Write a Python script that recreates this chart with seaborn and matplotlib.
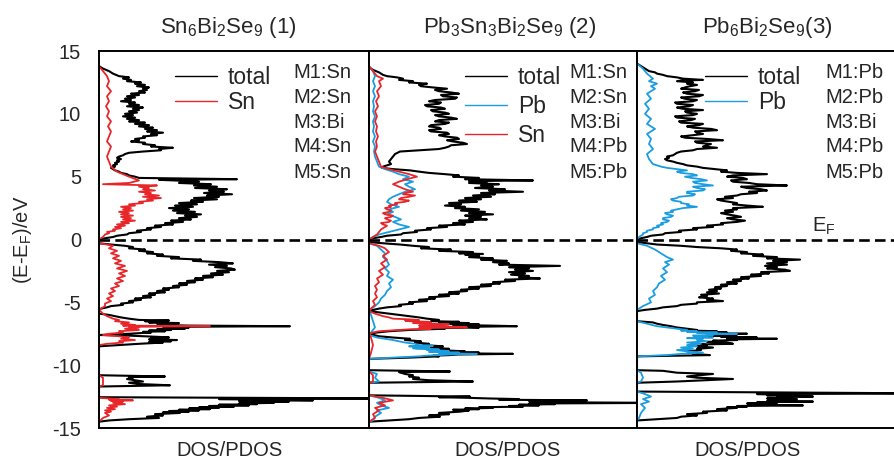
import matplotlib
matplotlib.use("Agg")
import matplotlib.pyplot as plt
import seaborn as sns

# ---------------- data: (energy in eV relative to E_F, DOS in arb. units) ----------------
# Panel 1: Sn6Bi2Se9
tot1 = [(13.8, 0), (13.6, 4), (13.4, 10), (13.2, 14), (13.0, 20), (12.9, 30), (12.8, 24), (12.7, 32),
        (12.6, 28), (12.5, 42), (12.4, 36), (12.3, 46), (12.2, 38), (12.1, 50), (12.0, 44), (11.9, 48),
        (11.8, 40), (11.7, 46), (11.6, 32), (11.5, 40), (11.4, 28), (11.3, 36), (11.2, 26), (11.1, 32),
        (11.0, 22), (10.9, 36), (10.8, 30), (10.7, 40), (10.6, 28), (10.5, 44), (10.4, 34), (10.3, 40),
        (10.2, 30), (10.1, 38), (10.0, 26), (9.9, 34), (9.8, 24), (9.7, 36), (9.6, 28), (9.5, 40),
        (9.4, 30), (9.3, 46), (9.2, 36), (9.1, 50), (9.0, 40), (8.9, 54), (8.8, 46), (8.7, 58),
        (8.6, 48), (8.5, 64), (8.4, 52), (8.3, 58), (8.2, 44), (8.1, 46), (8.0, 36), (7.9, 40),
        (7.8, 32), (7.7, 46), (7.6, 44), (7.5, 56), (7.4, 52), (7.3, 74), (7.2, 60), (7.1, 62),
        (7.0, 44), (6.9, 30), (6.8, 26), (6.7, 24), (6.6, 20), (6.5, 18), (6.4, 22), (6.3, 18),
        (6.2, 20), (6.1, 16), (6.0, 18), (5.9, 14), (5.8, 16), (5.7, 12), (5.6, 14), (5.5, 16),
        (5.4, 20), (5.3, 22), (5.2, 28), (5.1, 30), (5.0, 36), (4.9, 40), (4.8, 138), (4.75, 60),
        (4.7, 75), (4.6, 100), (4.5, 80), (4.4, 112), (4.3, 95), (4.2, 118), (4.1, 96), (4.0, 128),
        (3.9, 110), (3.8, 125), (3.7, 105), (3.6, 133), (3.5, 108), (3.4, 120), (3.3, 95), (3.2, 118),
        (3.1, 92), (3.0, 104), (2.9, 80), (2.8, 98), (2.7, 76), (2.6, 94), (2.5, 70), (2.4, 90),
        (2.3, 74), (2.2, 96), (2.1, 78), (2.0, 102), (1.9, 86), (1.8, 98), (1.7, 80), (1.6, 92),
        (1.5, 72), (1.4, 84), (1.3, 66), (1.2, 74), (1.1, 56), (1.0, 62), (0.9, 48), (0.8, 52),
        (0.7, 38), (0.6, 42), (0.5, 30), (0.4, 28), (0.3, 18), (0.2, 14), (0.1, 6), (0.0, 0),
        (-0.3, 0), (-0.4, 12), (-0.5, 26), (-0.6, 34), (-0.7, 30), (-0.8, 46), (-0.9, 40), (-1.0, 54),
        (-1.1, 48), (-1.2, 64), (-1.3, 58), (-1.4, 80), (-1.5, 72), (-1.6, 102), (-1.7, 94), (-1.8, 120),
        (-1.9, 134), (-2.0, 110), (-2.1, 128), (-2.2, 116), (-2.3, 132), (-2.4, 136), (-2.5, 118),
        (-2.6, 130), (-2.7, 112), (-2.8, 124), (-2.9, 104), (-3.0, 114), (-3.1, 96), (-3.2, 104),
        (-3.3, 88), (-3.4, 96), (-3.5, 80), (-3.6, 88), (-3.7, 74), (-3.8, 80), (-3.9, 64), (-4.0, 70),
        (-4.1, 58), (-4.2, 66), (-4.3, 50), (-4.4, 56), (-4.5, 44), (-4.6, 52), (-4.7, 36), (-4.8, 42),
        (-4.9, 30), (-5.0, 34), (-5.1, 22), (-5.2, 24), (-5.3, 12), (-5.4, 8), (-5.5, 2), (-5.6, 0),
        (-5.9, 0), (-6.0, 10), (-6.1, 16), (-6.2, 22), (-6.3, 30), (-6.4, 40), (-6.45, 70), (-6.5, 46),
        (-6.55, 62), (-6.6, 50), (-6.65, 80), (-6.7, 58), (-6.75, 76), (-6.8, 60), (-6.85, 90),
        (-6.9, 191), (-6.95, 70), (-7.0, 90), (-7.05, 64), (-7.1, 86), (-7.15, 58), (-7.2, 72),
        (-7.25, 50), (-7.3, 66), (-7.35, 44), (-7.4, 52), (-7.5, 30), (-7.6, 0), (-7.65, 30), (-7.7, 46),
        (-7.75, 60), (-7.8, 70), (-7.85, 52), (-7.9, 66), (-7.95, 50), (-8.0, 78), (-8.05, 58),
        (-8.1, 72), (-8.15, 50), (-8.2, 64), (-8.3, 40), (-8.4, 20), (-8.5, 0), (-10.8, 0), (-10.9, 66),
        (-10.95, 30), (-11.0, 34), (-11.1, 28), (-11.2, 36), (-11.3, 44), (-11.4, 30), (-11.5, 40),
        (-11.6, 71), (-11.7, 0), (-12.55, 0), (-12.65, 300), (-12.7, 120), (-12.75, 180), (-12.8, 214),
        (-12.85, 140), (-12.9, 190), (-12.95, 150), (-13.0, 175), (-13.05, 140), (-13.1, 158),
        (-13.15, 120), (-13.2, 150), (-13.25, 110), (-13.3, 135), (-13.35, 100), (-13.4, 120),
        (-13.45, 90), (-13.5, 111), (-13.55, 80), (-13.6, 100), (-13.65, 70), (-13.7, 90), (-13.75, 64),
        (-13.8, 81), (-13.9, 56), (-14.0, 64), (-14.1, 48), (-14.2, 60), (-14.3, 30), (-14.4, 10),
        (-14.5, 0)]

sn1 = [(13.8, 0), (13.4, 4), (13.0, 8), (12.6, 10), (12.2, 8), (11.8, 12), (11.4, 8), (11.0, 10),
       (10.6, 7), (10.2, 10), (9.8, 8), (9.4, 12), (9.0, 9), (8.6, 12), (8.2, 10), (7.8, 8), (7.4, 12),
       (7.0, 10), (6.6, 8), (6.2, 10), (5.8, 12), (5.4, 18), (5.0, 30), (4.7, 40), (4.5, 30), (4.4, 4),
       (4.3, 58), (4.2, 40), (4.1, 50), (4.0, 44), (3.9, 56), (3.8, 40), (3.7, 52), (3.6, 46), (3.5, 60),
       (3.4, 44), (3.3, 62), (3.2, 48), (3.1, 54), (3.0, 40), (2.9, 44), (2.8, 30), (2.7, 36), (2.6, 22),
       (2.5, 32), (2.4, 24), (2.3, 34), (2.2, 20), (2.1, 30), (2.0, 22), (1.9, 34), (1.8, 22), (1.7, 32),
       (1.6, 24), (1.5, 36), (1.4, 22), (1.3, 30), (1.2, 18), (1.1, 26), (1.0, 16), (0.9, 22), (0.8, 14),
       (0.7, 16), (0.6, 8), (0.5, 10), (0.4, 6), (0.2, 4), (0.0, 0), (-0.3, 0), (-0.4, 8), (-0.5, 14),
       (-0.7, 10), (-0.9, 18), (-1.1, 12), (-1.3, 20), (-1.5, 14), (-1.7, 22), (-1.9, 16), (-2.1, 26),
       (-2.3, 18), (-2.5, 28), (-2.7, 20), (-2.9, 26), (-3.1, 18), (-3.3, 24), (-3.5, 16), (-3.7, 20),
       (-3.9, 12), (-4.1, 16), (-4.3, 10), (-4.5, 14), (-4.7, 8), (-4.9, 12), (-5.1, 6), (-5.3, 6),
       (-5.5, 2), (-5.6, 0), (-5.9, 4), (-6.1, 8), (-6.3, 14), (-6.4, 20), (-6.5, 16), (-6.6, 30),
       (-6.7, 22), (-6.8, 36), (-6.85, 24), (-6.9, 111), (-6.95, 30), (-7.0, 40), (-7.1, 26), (-7.2, 40),
       (-7.3, 20), (-7.4, 24), (-7.5, 10), (-7.6, 4), (-7.7, 20), (-7.8, 30), (-7.9, 22), (-8.0, 36),
       (-8.1, 20), (-8.2, 24), (-8.3, 8), (-8.4, 0), (-10.8, 0), (-11.0, 4), (-11.6, 4), (-11.7, 0),
       (-12.6, 0), (-12.7, 20), (-12.75, 10), (-12.8, 34), (-12.85, 12), (-12.9, 24), (-13.0, 14),
       (-13.1, 26), (-13.2, 10), (-13.3, 18), (-13.4, 8), (-13.5, 16), (-13.6, 6), (-13.7, 12),
       (-13.8, 6), (-14.0, 10), (-14.2, 4), (-14.5, 0)]

# Panel 2: Pb3Sn3Bi2Se9
tot2 = [(13.7, 0), (13.5, 4), (13.3, 10), (13.1, 14), (13.0, 18), (12.9, 28), (12.8, 34), (12.7, 30),
        (12.6, 44), (12.5, 40), (12.4, 58), (12.3, 50), (12.2, 52), (12.1, 64), (12.0, 78), (11.9, 66),
        (11.8, 70), (11.7, 82), (11.6, 90), (11.5, 72), (11.4, 74), (11.3, 88), (11.2, 86), (11.1, 66),
        (11.0, 60), (10.9, 72), (10.8, 70), (10.7, 56), (10.6, 58), (10.5, 72), (10.4, 76), (10.3, 62),
        (10.2, 64), (10.1, 76), (10.0, 80), (9.9, 66), (9.8, 70), (9.7, 82), (9.6, 88), (9.5, 70),
        (9.4, 66), (9.3, 80), (9.2, 76), (9.1, 62), (9.0, 60), (8.9, 70), (8.8, 72), (8.7, 60),
        (8.6, 62), (8.5, 78), (8.4, 80), (8.3, 70), (8.2, 76), (8.1, 88), (8.0, 90), (7.9, 78),
        (7.8, 84), (7.7, 94), (7.6, 98), (7.5, 82), (7.4, 80), (7.3, 76), (7.2, 70), (7.1, 50),
        (7.0, 31), (6.8, 26), (6.6, 24), (6.4, 22), (6.2, 20), (6.0, 22), (5.8, 14), (5.7, 13),
        (5.6, 24), (5.5, 41), (5.4, 50), (5.3, 60), (5.2, 76), (5.1, 90), (5.0, 84), (4.9, 110),
        (4.8, 96), (4.7, 164), (4.65, 100), (4.6, 118), (4.5, 100), (4.4, 130), (4.3, 112), (4.2, 124),
        (4.1, 106), (4.0, 136), (3.9, 120), (3.8, 154), (3.7, 112), (3.6, 126), (3.5, 104), (3.4, 122),
        (3.3, 96), (3.2, 112), (3.1, 90), (3.0, 108), (2.9, 80), (2.8, 92), (2.7, 76), (2.6, 96),
        (2.5, 86), (2.4, 110), (2.3, 92), (2.2, 116), (2.1, 100), (2.0, 124), (1.9, 96), (1.8, 112),
        (1.7, 100), (1.6, 118), (1.5, 90), (1.4, 104), (1.3, 84), (1.2, 96), (1.1, 70), (1.0, 78),
        (0.9, 58), (0.8, 62), (0.7, 46), (0.6, 48), (0.5, 34), (0.4, 32), (0.3, 18), (0.2, 12),
        (0.1, 4), (0.0, 0), (-0.2, 0), (-0.3, 14), (-0.4, 31), (-0.5, 44), (-0.6, 60), (-0.7, 52),
        (-0.8, 82), (-0.9, 70), (-1.0, 104), (-1.1, 90), (-1.15, 114), (-1.2, 96), (-1.3, 110),
        (-1.4, 100), (-1.5, 124), (-1.6, 112), (-1.7, 138), (-1.8, 124), (-1.9, 140), (-2.0, 130),
        (-2.1, 191), (-2.2, 140), (-2.3, 160), (-2.4, 146), (-2.5, 164), (-2.6, 140), (-2.7, 156),
        (-2.8, 142), (-2.9, 160), (-3.0, 150), (-3.1, 171), (-3.2, 136), (-3.3, 146), (-3.4, 124),
        (-3.5, 131), (-3.6, 112), (-3.7, 122), (-3.8, 100), (-3.9, 110), (-4.0, 92), (-4.1, 98),
        (-4.2, 80), (-4.3, 90), (-4.4, 70), (-4.5, 80), (-4.6, 60), (-4.7, 66), (-4.8, 50), (-4.9, 58),
        (-5.0, 40), (-5.1, 44), (-5.2, 30), (-5.3, 32), (-5.4, 18), (-5.5, 10), (-5.6, 4), (-5.7, 0),
        (-5.8, 10), (-5.9, 20), (-6.0, 30), (-6.1, 40), (-6.2, 50), (-6.3, 58), (-6.4, 70), (-6.5, 62),
        (-6.55, 90), (-6.6, 70), (-6.65, 100), (-6.7, 80), (-6.75, 110), (-6.8, 84), (-6.85, 120),
        (-6.9, 148), (-6.95, 96), (-7.0, 110), (-7.05, 70), (-7.1, 76), (-7.2, 40), (-7.3, 20),
        (-7.4, 8), (-7.5, 0), (-7.7, 10), (-7.8, 24), (-7.9, 41), (-8.0, 36), (-8.1, 52), (-8.2, 46),
        (-8.3, 60), (-8.4, 54), (-8.5, 74), (-8.6, 62), (-8.7, 80), (-8.8, 70), (-8.9, 96), (-8.95, 80),
        (-9.0, 110), (-9.05, 84), (-9.1, 144), (-9.15, 90), (-9.2, 80), (-9.25, 64), (-9.3, 70),
        (-9.4, 40), (-9.5, 0), (-10.4, 0), (-10.5, 81), (-10.55, 30), (-10.7, 36), (-10.8, 44),
        (-10.9, 40), (-11.0, 50), (-11.1, 44), (-11.2, 60), (-11.3, 104), (-11.4, 0), (-12.4, 0),
        (-12.5, 101), (-12.55, 70), (-12.6, 100), (-12.65, 120), (-12.7, 150), (-12.75, 130),
        (-12.8, 218), (-12.85, 160), (-12.9, 190), (-12.95, 170), (-13.0, 300), (-13.05, 160),
        (-13.1, 186), (-13.15, 150), (-13.2, 170), (-13.25, 140), (-13.3, 154), (-13.35, 110),
        (-13.4, 124), (-13.45, 96), (-13.5, 110), (-13.55, 84), (-13.6, 100), (-13.7, 91), (-13.8, 70),
        (-13.9, 80), (-14.0, 60), (-14.1, 71), (-14.2, 50), (-14.3, 40), (-14.4, 20), (-14.5, 0)]

sn2 = [(13.8, 0), (13.4, 4), (13.0, 8), (12.8, 14), (12.6, 10), (12.2, 12), (11.8, 8), (11.4, 10),
       (11.0, 7), (10.6, 9), (10.2, 6), (9.8, 8), (9.4, 6), (9.0, 8), (8.6, 7), (8.2, 9), (7.8, 7),
       (7.4, 8), (7.0, 6), (6.6, 8), (6.2, 10), (5.8, 12), (5.6, 20), (5.4, 30), (5.2, 40), (5.0, 48),
       (4.8, 38), (4.6, 30), (4.4, 24), (4.2, 30), (4.0, 36), (3.8, 44), (3.7, 36), (3.6, 34),
       (3.5, 46), (3.4, 40), (3.3, 32), (3.2, 30), (3.1, 40), (3.0, 36), (2.9, 26), (2.8, 28),
       (2.7, 20), (2.6, 22), (2.5, 16), (2.4, 18), (2.3, 22), (2.2, 20), (2.1, 14), (2.0, 16),
       (1.9, 24), (1.8, 22), (1.7, 16), (1.6, 18), (1.5, 22), (1.4, 20), (1.3, 12), (1.2, 14),
       (1.1, 18), (1.0, 16), (0.8, 12), (0.6, 10), (0.4, 8), (0.2, 4), (0.0, 0), (-0.3, 0), (-0.5, 10),
       (-0.7, 16), (-1.0, 20), (-1.3, 14), (-1.6, 18), (-1.9, 12), (-2.2, 16), (-2.5, 10), (-2.8, 14),
       (-3.1, 8), (-3.4, 10), (-3.7, 6), (-4.0, 8), (-4.3, 6), (-4.6, 8), (-4.9, 4), (-5.2, 6),
       (-5.5, 2), (-5.7, 0), (-5.9, 6), (-6.1, 14), (-6.2, 20), (-6.3, 24), (-6.35, 40), (-6.4, 50),
       (-6.45, 36), (-6.5, 40), (-6.55, 60), (-6.6, 62), (-6.65, 44), (-6.7, 58), (-6.75, 80),
       (-6.8, 70), (-6.85, 50), (-6.9, 60), (-6.95, 90), (-7.0, 98), (-7.05, 50), (-7.1, 62),
       (-7.15, 40), (-7.2, 30), (-7.3, 10), (-7.4, 4), (-7.5, 0), (-7.8, 2), (-8.4, 4), (-9.0, 2),
       (-9.5, 0), (-10.5, 0), (-10.8, 4), (-11.3, 4), (-11.4, 0), (-12.4, 0), (-12.6, 14), (-12.8, 24),
       (-13.0, 10), (-13.2, 16), (-13.4, 6), (-13.6, 10), (-13.9, 4), (-14.2, 6), (-14.5, 0)]

pb2 = [(13.8, 0), (13.4, 4), (13.0, 6), (12.6, 4), (12.2, 6), (11.8, 4), (11.4, 6), (11.0, 4),
       (10.6, 5), (10.2, 4), (9.8, 6), (9.4, 4), (9.0, 5), (8.6, 4), (8.2, 6), (7.8, 4), (7.4, 6),
       (7.0, 5), (6.6, 6), (6.2, 8), (5.8, 10), (5.6, 16), (5.4, 24), (5.2, 30), (5.0, 40), (4.8, 34),
       (4.6, 44), (4.4, 36), (4.2, 40), (4.0, 46), (3.8, 36), (3.6, 30), (3.4, 24), (3.2, 20),
       (3.0, 18), (2.8, 22), (2.6, 30), (2.4, 20), (2.2, 24), (2.0, 18), (1.8, 26), (1.6, 32),
       (1.4, 24), (1.2, 30), (1.0, 40), (0.8, 30), (0.6, 20), (0.4, 10), (0.2, 4), (0.0, 0), (-0.3, 0),
       (-0.5, 8), (-0.8, 12), (-1.1, 16), (-1.4, 14), (-1.7, 18), (-2.0, 20), (-2.3, 16), (-2.6, 20),
       (-2.9, 18), (-3.2, 24), (-3.5, 20), (-3.8, 22), (-4.1, 18), (-4.4, 16), (-4.7, 12), (-5.0, 10),
       (-5.3, 6), (-5.6, 0), (-6.0, 2), (-6.5, 4), (-7.0, 6), (-7.4, 2), (-7.6, 0), (-7.8, 8),
       (-7.9, 16), (-8.0, 24), (-8.1, 30), (-8.2, 36), (-8.3, 46), (-8.4, 50), (-8.45, 64), (-8.5, 40),
       (-8.55, 60), (-8.6, 60), (-8.65, 44), (-8.7, 48), (-8.75, 70), (-8.8, 58), (-8.85, 76),
       (-8.9, 80), (-8.95, 60), (-9.0, 90), (-9.05, 70), (-9.1, 108), (-9.15, 80), (-9.2, 70),
       (-9.25, 56), (-9.3, 50), (-9.4, 24), (-9.5, 0), (-10.5, 0), (-10.7, 8), (-11.0, 6), (-11.3, 10),
       (-11.4, 0), (-12.4, 0), (-12.6, 10), (-12.8, 16), (-13.0, 8), (-13.2, 12), (-13.4, 20),
       (-13.6, 8), (-13.8, 12), (-14.1, 6), (-14.4, 4), (-14.5, 0)]

# Panel 3: Pb6Bi2Se9
tot3 = [(14.0, 0), (13.8, 4), (13.6, 8), (13.4, 12), (13.3, 18), (13.2, 20), (13.1, 26), (13.0, 30),
        (12.9, 40), (12.8, 46), (12.7, 66), (12.65, 44), (12.6, 40), (12.5, 56), (12.4, 50), (12.3, 60),
        (12.2, 53), (12.1, 48), (12.0, 44), (11.9, 62), (11.8, 58), (11.7, 46), (11.6, 50), (11.5, 66),
        (11.4, 62), (11.3, 44), (11.2, 48), (11.1, 60), (11.0, 56), (10.9, 38), (10.8, 40), (10.7, 56),
        (10.6, 52), (10.5, 40), (10.4, 46), (10.3, 66), (10.2, 48), (10.1, 50), (10.0, 60), (9.9, 56),
        (9.8, 38), (9.7, 40), (9.6, 58), (9.5, 54), (9.4, 42), (9.3, 44), (9.2, 66), (9.1, 62),
        (9.0, 50), (8.9, 56), (8.8, 74), (8.7, 80), (8.6, 58), (8.5, 60), (8.4, 66), (8.3, 56),
        (8.2, 44), (8.1, 48), (8.0, 70), (7.9, 86), (7.8, 58), (7.7, 60), (7.6, 74), (7.5, 70),
        (7.4, 66), (7.3, 80), (7.2, 60), (7.1, 56), (7.0, 44), (6.9, 40), (6.8, 38), (6.7, 36),
        (6.6, 30), (6.5, 32), (6.4, 28), (6.3, 30), (6.2, 36), (6.1, 40), (6.0, 46), (5.9, 50),
        (5.8, 60), (5.7, 66), (5.6, 78), (5.5, 90), (5.4, 84), (5.3, 100), (5.2, 130), (5.1, 96),
        (5.0, 90), (4.9, 106), (4.8, 110), (4.7, 94), (4.6, 96), (4.5, 112), (4.4, 120), (4.3, 150),
        (4.2, 104), (4.1, 110), (4.0, 124), (3.9, 130), (3.8, 112), (3.7, 120), (3.6, 104), (3.5, 100),
        (3.4, 88), (3.3, 96), (3.2, 80), (3.1, 84), (3.0, 92), (2.9, 100), (2.8, 96), (2.7, 110),
        (2.6, 126), (2.5, 96), (2.4, 100), (2.3, 88), (2.2, 96), (2.1, 84), (2.0, 90), (1.9, 98),
        (1.8, 104), (1.7, 90), (1.6, 96), (1.5, 108), (1.4, 100), (1.3, 84), (1.2, 86), (1.1, 70),
        (1.0, 76), (0.9, 56), (0.8, 60), (0.7, 42), (0.6, 44), (0.5, 28), (0.4, 26), (0.3, 14),
        (0.2, 10), (0.1, 4), (0.0, 0), (-0.2, 0), (-0.3, 10), (-0.4, 20), (-0.5, 44), (-0.6, 60),
        (-0.7, 84), (-0.8, 100), (-0.9, 94), (-1.0, 110), (-1.1, 104), (-1.2, 126), (-1.3, 116),
        (-1.4, 140), (-1.5, 130), (-1.6, 163), (-1.7, 136), (-1.8, 150), (-1.9, 130), (-2.0, 150),
        (-2.1, 128), (-2.2, 140), (-2.3, 130), (-2.4, 148), (-2.5, 153), (-2.6, 124), (-2.7, 132),
        (-2.8, 114), (-2.9, 124), (-3.0, 104), (-3.1, 112), (-3.2, 96), (-3.3, 104), (-3.4, 90),
        (-3.5, 100), (-3.6, 84), (-3.7, 90), (-3.8, 78), (-3.9, 84), (-4.0, 72), (-4.1, 80), (-4.2, 70),
        (-4.3, 82), (-4.4, 64), (-4.5, 70), (-4.6, 62), (-4.7, 76), (-4.8, 70), (-4.9, 86), (-5.0, 60),
        (-5.1, 60), (-5.2, 44), (-5.3, 40), (-5.4, 26), (-5.5, 20), (-5.6, 8), (-5.7, 0), (-6.5, 0),
        (-6.6, 16), (-6.7, 20), (-6.8, 26), (-6.9, 34), (-7.0, 40), (-7.1, 50), (-7.2, 60), (-7.25, 54),
        (-7.3, 80), (-7.35, 60), (-7.4, 90), (-7.45, 70), (-7.5, 110), (-7.55, 80), (-7.6, 90),
        (-7.65, 70), (-7.7, 100), (-7.75, 84), (-7.8, 120), (-7.85, 90), (-7.9, 140), (-7.95, 90),
        (-8.0, 100), (-8.05, 76), (-8.1, 84), (-8.15, 70), (-8.2, 90), (-8.3, 96), (-8.35, 64),
        (-8.4, 70), (-8.5, 60), (-8.6, 76), (-8.7, 60), (-8.8, 64), (-8.9, 50), (-9.0, 60), (-9.1, 56),
        (-9.2, 73), (-9.3, 0), (-10.4, 0), (-10.45, 26), (-10.6, 40), (-10.7, 76), (-10.9, 50),
        (-11.0, 60), (-11.1, 96), (-11.3, 40), (-11.4, 0), (-12.1, 0), (-12.25, 300), (-12.3, 120),
        (-12.35, 150), (-12.4, 130), (-12.45, 160), (-12.5, 176), (-12.55, 140), (-12.6, 150),
        (-12.65, 130), (-12.7, 160), (-12.75, 140), (-12.8, 156), (-12.85, 130), (-12.9, 176),
        (-12.95, 120), (-13.0, 130), (-13.05, 110), (-13.1, 140), (-13.15, 120), (-13.2, 166),
        (-13.25, 100), (-13.3, 110), (-13.35, 90), (-13.4, 100), (-13.5, 80), (-13.6, 90), (-13.7, 66),
        (-13.8, 70), (-13.9, 50), (-14.0, 60), (-14.1, 44), (-14.2, 40), (-14.3, 20), (-14.4, 0)]

pb3 = [(14.0, 0), (13.6, 6), (13.2, 10), (12.8, 16), (12.6, 12), (12.4, 20), (12.2, 14), (12.0, 18),
       (11.6, 10), (11.2, 14), (10.8, 8), (10.4, 12), (10.0, 8), (9.6, 14), (9.2, 10), (8.8, 18),
       (8.4, 10), (8.0, 14), (7.6, 12), (7.2, 16), (6.8, 10), (6.4, 12), (6.0, 16), (5.8, 24),
       (5.7, 30), (5.6, 40), (5.5, 50), (5.4, 40), (5.3, 44), (5.2, 56), (5.1, 60), (5.0, 48),
       (4.9, 54), (4.8, 64), (4.7, 70), (4.6, 56), (4.5, 58), (4.4, 66), (4.3, 76), (4.2, 56),
       (4.1, 60), (4.0, 68), (3.9, 66), (3.8, 50), (3.7, 50), (3.6, 58), (3.5, 56), (3.4, 42),
       (3.3, 40), (3.2, 34), (3.1, 36), (3.0, 44), (2.9, 44), (2.8, 52), (2.7, 50), (2.6, 60),
       (2.5, 46), (2.4, 40), (2.3, 34), (2.2, 36), (2.1, 28), (2.0, 30), (1.9, 36), (1.8, 34),
       (1.7, 26), (1.6, 26), (1.5, 32), (1.4, 30), (1.3, 24), (1.2, 26), (1.1, 20), (1.0, 22),
       (0.9, 16), (0.8, 16), (0.7, 10), (0.6, 10), (0.5, 6), (0.4, 6), (0.2, 2), (0.0, 0), (-0.3, 0),
       (-0.5, 10), (-0.8, 18), (-1.1, 24), (-1.4, 30), (-1.6, 36), (-1.8, 28), (-2.0, 32), (-2.3, 26),
       (-2.6, 30), (-2.9, 24), (-3.2, 28), (-3.5, 22), (-3.8, 20), (-4.1, 16), (-4.4, 18), (-4.7, 12),
       (-5.0, 14), (-5.3, 6), (-5.6, 0), (-6.5, 0), (-6.7, 10), (-6.9, 20), (-7.0, 30), (-7.1, 40),
       (-7.2, 50), (-7.25, 44), (-7.3, 60), (-7.35, 50), (-7.4, 80), (-7.45, 60), (-7.5, 100),
       (-7.55, 70), (-7.6, 76), (-7.65, 56), (-7.7, 70), (-7.75, 60), (-7.8, 76), (-7.85, 50),
       (-7.9, 66), (-8.0, 60), (-8.1, 70), (-8.2, 50), (-8.3, 64), (-8.4, 50), (-8.5, 60), (-8.6, 44),
       (-8.7, 56), (-8.8, 40), (-8.9, 50), (-9.0, 66), (-9.1, 44), (-9.2, 30), (-9.3, 0), (-10.4, 0),
       (-10.6, 4), (-11.0, 6), (-11.3, 4), (-11.4, 0), (-12.1, 0), (-12.3, 8), (-12.5, 14), (-12.7, 6),
       (-12.9, 12), (-13.1, 4), (-13.4, 8), (-13.8, 4), (-14.2, 2), (-14.4, 0)]

titles = [r"Sn$_6$Bi$_2$Se$_9$ (1)", r"Pb$_3$Sn$_3$Bi$_2$Se$_9$ (2)", r"Pb$_6$Bi$_2$Se$_9$(3)"]
site_labels = [["M1:Sn", "M2:Sn", "M3:Bi", "M4:Sn", "M5:Sn"],
               ["M1:Sn", "M2:Sn", "M3:Bi", "M4:Pb", "M5:Pb"],
               ["M1:Pb", "M2:Pb", "M3:Bi", "M4:Pb", "M5:Pb"]]
y_ticks = [-15, -10, -5, 0, 5, 10, 15]

RED = "#e8262a"
BLUE = "#1a9de0"

panels = [
    [("total", tot1, "black"), ("Sn", sn1, RED)],
    [("total", tot2, "black"), ("Pb", pb2, BLUE), ("Sn", sn2, RED)],
    [("total", tot3, "black"), ("Pb", pb3, BLUE)],
]

# ---------------- figure ----------------
sns.set_theme(style="white")
plt.rcParams["font.family"] = ["Liberation Sans", "DejaVu Sans"]
plt.rcParams["mathtext.default"] = "regular"

W, H = 894, 461
fig = plt.figure(figsize=(W / 100, H / 100), dpi=100)


def fx(px):
    return px / W


def fy(py):
    return 1 - py / H


top_px, bot_px = 51, 428
lefts = [99, 369, 637]
widths = [270, 268, 269]

axes = []
for i in range(3):
    ax = fig.add_axes([fx(lefts[i]), fy(bot_px), widths[i] / W, (bot_px - top_px) / H])
    axes.append(ax)
    for name, pts, c in panels[i]:
        energy = [p[0] for p in pts]
        dos = [p[1] for p in pts]
        lw = 1.5 if c == "black" else 1.3
        sns.lineplot(x=dos, y=energy, sort=False, estimator=None, color=c, lw=lw, ax=ax,
                     label=name, legend=False)
    ax.axhline(0, color="black", ls=(0, (4, 2)), lw=1.9, zorder=5)
    ax.set_xlim(0, widths[i])
    ax.set_ylim(-15, 15)
    ax.set_xticks([])
    ax.set_yticks(y_ticks)
    if i == 0:
        ax.set_yticklabels([str(t) for t in y_ticks], fontsize=14.5)
        ax.tick_params(axis="y", length=0, pad=13)
    else:
        ax.set_yticklabels([])
        ax.tick_params(axis="y", length=0)
    for s in ax.spines.values():
        s.set_color("black")
        s.set_linewidth(1.4)
    ax.set_xlabel("")
    ax.set_ylabel("")

# legends
leg_pos = [(175, 66), (465, 66), (705, 66)]
leg_space = [0.1, 0.27, 0.1]
for i, ax in enumerate(axes):
    lx, ly = leg_pos[i]
    leg = ax.legend(loc="upper left", bbox_to_anchor=(fx(lx), fy(ly)), bbox_transform=fig.transFigure,
                    frameon=False, fontsize=16.5, handlelength=1.85, handletextpad=0.45,
                    borderpad=0, borderaxespad=0, labelspacing=leg_space[i])
    for ln in leg.get_lines():
        ln.set_linewidth(1.0)

# site labels
site_x = [293, 569, 825]
site_y = [72, 97, 122, 147, 172]
for i in range(3):
    for lab, yy in zip(site_labels[i], site_y):
        fig.text(fx(site_x[i]), fy(yy), lab, fontsize=14.5, ha="left", va="center")

# titles
title_x = [228, 510, 767]
for tx, t in zip(title_x, titles):
    fig.text(fx(tx), fy(33), t, fontsize=16, ha="center", va="baseline")

# x labels
xlab_x = [230, 508, 748]
for xx in xlab_x:
    fig.text(fx(xx), fy(450), "DOS/PDOS", fontsize=14.5, ha="center", va="center")

# y label and Fermi level mark
fig.text(fx(22), fy(240), r"(E-E$_F$)/eV", fontsize=14.5, rotation=90, ha="center", va="center")
fig.text(fx(812), fy(232), r"E$_F$", fontsize=14.5, ha="left", va="baseline")

fig.savefig("out.png", dpi=100)
